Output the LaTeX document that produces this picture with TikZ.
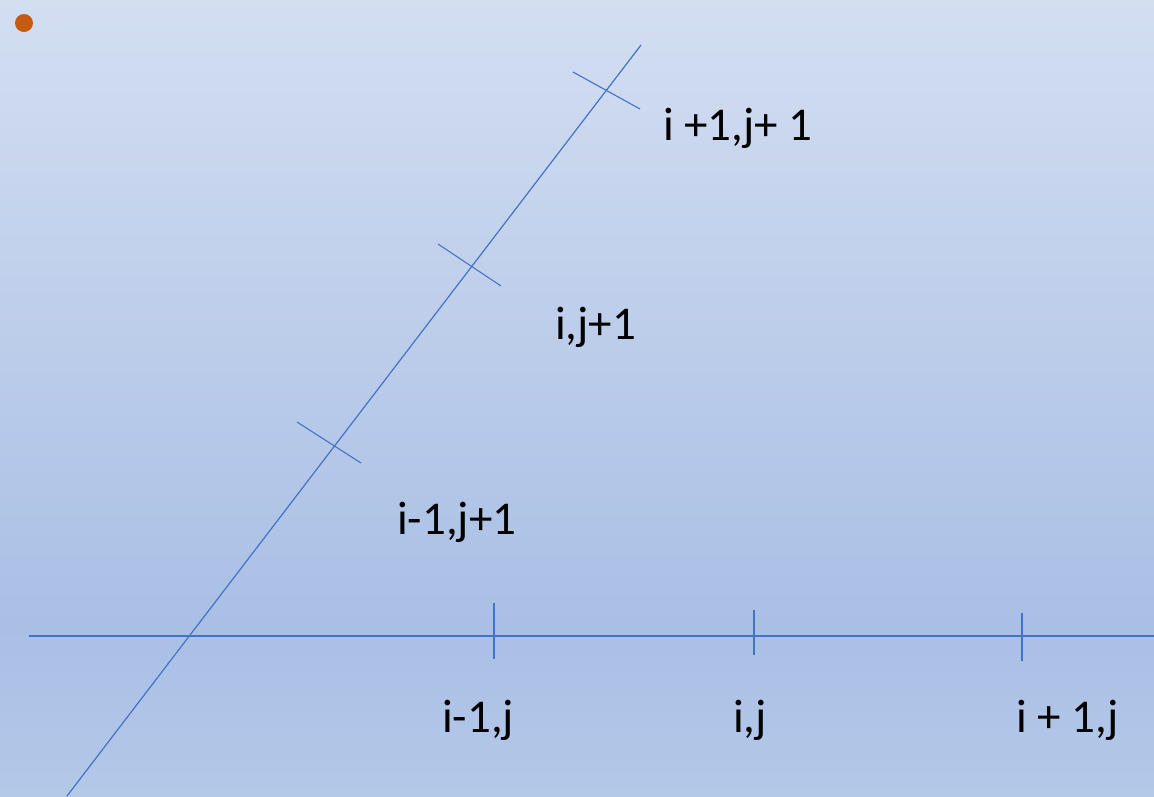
\documentclass[tikz,border=0pt]{standalone}
\usepackage{fontspec}
\setmainfont{Carlito}
\definecolor{lineblue}{HTML}{4472C4}
\definecolor{dotorange}{HTML}{C55A11}
\definecolor{bgtop}{HTML}{D3DEF1}
\definecolor{bgmid}{HTML}{A9BFE5}
\definecolor{bgbot}{HTML}{B4C8E8}
\tikzset{
  axis/.style={draw=lineblue, line width=1.2pt},
  tick/.style={draw=lineblue, line width=1.1pt},
  lbl/.style={anchor=base west, inner sep=0pt, font=\fontsize{47}{52}\selectfont, text=black},
}
\begin{document}
\begin{tikzpicture}[x=1pt,y=-1pt]
\useasboundingbox (0,0) rectangle (1154,796);
\shade[top color=bgtop, bottom color=bgmid] (0,0) rectangle (1154,625);
\shade[top color=bgmid, bottom color=bgbot] (0,625) rectangle (1154,796);
\fill[dotorange] (24,23) circle (9);
% axes
\coordinate (hA) at (29,636);
\coordinate (hB) at (1154,636);
\coordinate (dA) at (67,796);
\coordinate (dB) at (641,45);
\draw[axis] (hA) -- (hB);
\draw[axis] (dA) -- (dB);
% diagonal ticks
\coordinate (t1a) at (573,72);  \coordinate (t1b) at (640,109);
\coordinate (t2a) at (438,244); \coordinate (t2b) at (501,286);
\coordinate (t3a) at (297,422); \coordinate (t3b) at (361,463);
\draw[tick] (t1a) -- (t1b);
\draw[tick] (t2a) -- (t2b);
\draw[tick] (t3a) -- (t3b);
% horizontal ticks
\coordinate (h1a) at (494,603);  \coordinate (h1b) at (494,659);
\coordinate (h2a) at (754,610);  \coordinate (h2b) at (754,655);
\coordinate (h3a) at (1022,613); \coordinate (h3b) at (1022,661);
\draw[tick] (h1a) -- (h1b);
\draw[tick] (h2a) -- (h2b);
\draw[tick] (h3a) -- (h3b);
% labels
\node[lbl] (l1) at (663,140) {i +1,j+ 1};
\node[lbl] (l2) at (555,339) {i,j+1};
\node[lbl] (l3) at (397,534) {i-1,j+1};
\node[lbl] (l4) at (442,732) {i-1,j};
\node[lbl] (l5) at (733,732) {i,j};
\node[lbl] (l6) at (1016,732) {i + 1,j};
\end{tikzpicture}
\end{document}
